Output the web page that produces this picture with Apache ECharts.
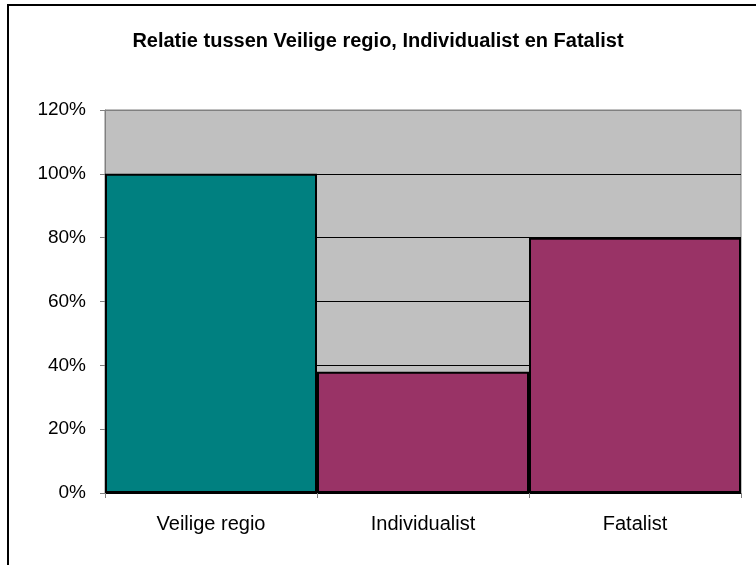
<!DOCTYPE html>
<html>
<head>
<meta charset="utf-8">
<script src="https://cdn.jsdelivr.net/npm/echarts@6/dist/echarts.min.js"></script>
<style>
  html, body { margin: 0; padding: 0; background: #fff; }
  #chart { width: 756px; height: 565px; }
</style>
</head>
<body>
<div id="chart"></div>
<script>
// data
var categories = ['Veilige regio', 'Individualist', 'Fatalist'];
var values = [100, 38, 80];
var barColors = ['#008080', '#993366', '#993366'];
var yTicks = [0, 20, 40, 60, 80, 100, 120];

window.onload = function() {
	var myChart = echarts.init(document.getElementById('chart'));

	var barData = values.map(function(v, i) {
		return { value: v, itemStyle: { color: barColors[i] } };
	});
	// gridlines zwart, bovenste lijn grijs
	var gridColors = yTicks.map(function(t, i) {
		return i === yTicks.length - 1 ? '#808080' : '#000';
	});

	var option = {
		animation: false,
		textStyle: { fontFamily: 'Liberation Sans, Arial, sans-serif' },
		title: {
			text: 'Relatie tussen Veilige regio, Individualist en Fatalist',
			left: 'center',
			top: 26,
			textStyle: { fontSize: 20, fontWeight: 'bold', color: '#000', fontFamily: 'Liberation Sans, Arial, sans-serif' }
		},
		graphic: [{
			type: 'rect',
			shape: { x: 8, y: 5, width: 800, height: 620 },
			style: { fill: null, stroke: '#000', lineWidth: 2 },
			silent: true
		}],
		grid: {
			left: 105, right: 15, top: 110, bottom: 72,
			show: true,
			backgroundColor: '#C0C0C0',
			borderColor: '#808080',
			borderWidth: 1
		},
		xAxis: {
			type: 'category',
			data: categories,
			axisLine: { lineStyle: { color: '#000', width: 1 } },
			axisTick: { show: true, length: 5, lineStyle: { color: '#808080' } },
			axisLabel: { fontSize: 20, color: '#000', margin: 21 }
		},
		yAxis: {
			type: 'value',
			min: yTicks[0],
			max: yTicks[yTicks.length - 1],
			interval: 20,
			axisLine: { show: true, lineStyle: { color: '#808080' } },
			axisTick: { show: true, length: 5, lineStyle: { color: '#808080' } },
			axisLabel: { fontSize: 19, color: '#000', margin: 19, formatter: '{value}%' },
			splitLine: { show: true, lineStyle: { color: gridColors, width: 1 } }
		},
		series: [{
			type: 'bar',
			data: barData,
			barCategoryGap: 0,
			itemStyle: { borderColor: '#000', borderWidth: 2 }
		}]
	};
	myChart.setOption(option);
};
</script>
</body>
</html>
